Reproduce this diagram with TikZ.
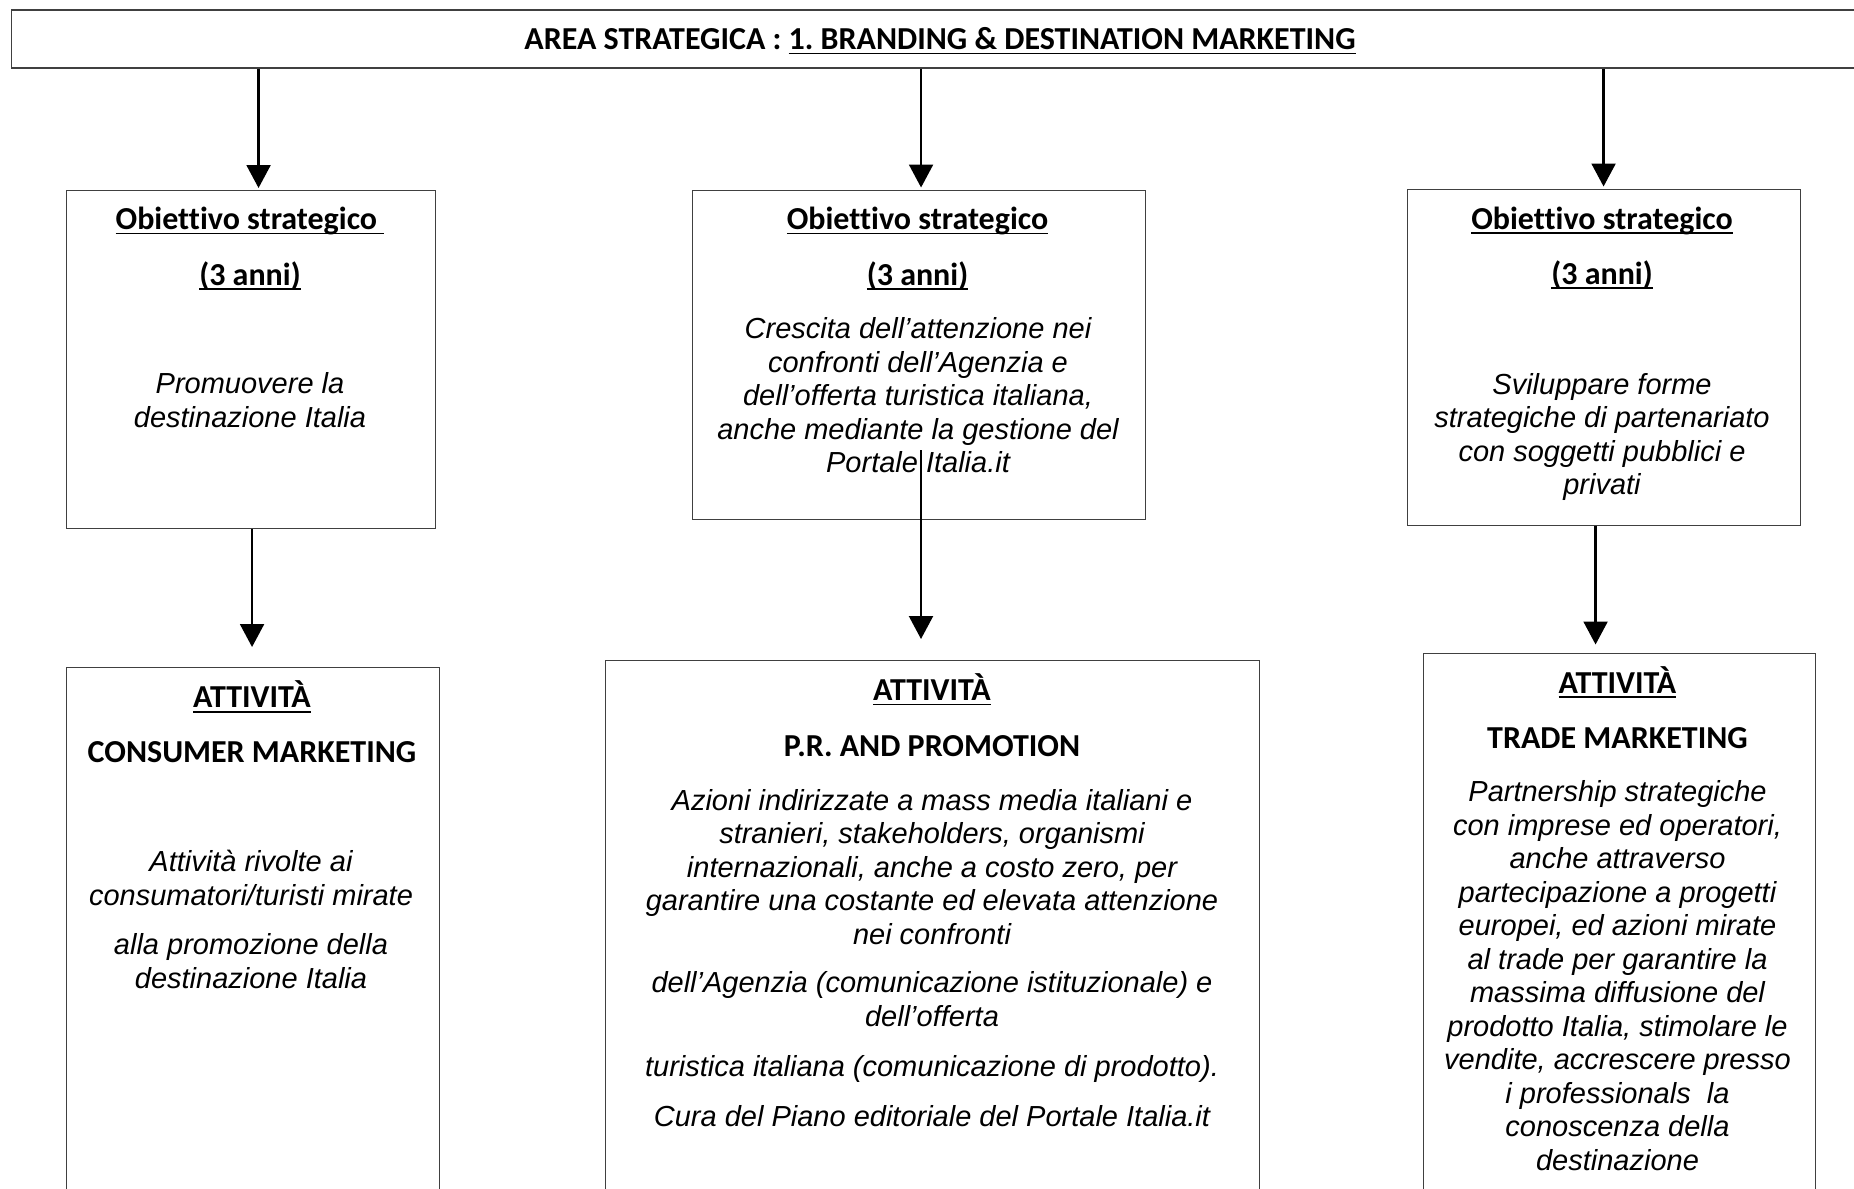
\documentclass[tikz,border=0pt]{standalone}
\usepackage{fontspec}
\newfontfamily\hdfont{Carlito}[Ligatures={NoCommon}]
\newfontfamily\bdfont{Liberation Sans}
\usetikzlibrary{arrows.meta}
\frenchspacing
\newcommand\undl[1]{\setbox0=\hbox{#1}\rlap{\rule[-4.9pt]{\wd0}{1.8pt}}\box0}
\tikzset{
  box/.style={draw=black!75, line width=1.1pt, inner sep=0pt, anchor=north west},
  hd/.style={font=\hdfont\bfseries\fontsize{32}{38}\selectfont, anchor=base, inner sep=0pt},
  bd/.style={font=\bdfont\itshape\fontsize{29}{33.5}\selectfont, align=center, anchor=north, inner sep=0pt, execute at begin node=\strut},
  arr/.style={line width=2.2pt, -{Triangle[width=24pt,length=23pt]}}
}
\begin{document}
\begin{tikzpicture}[x=1pt, y=-1pt]
  \useasboundingbox (0,0) rectangle (1854,1188);
  \clip (0,0) rectangle (1854,1188);
  % Define nodes
  \node[box, minimum width=1863pt, minimum height=58pt] (area) at (11,9.5) {};
  \node[hd] (areat) at (940,49.5) {AREA STRATEGICA : \undl{1. BRANDING \& DESTINATION MARKETING}};
  \node[box, minimum width=369pt, minimum height=338pt] (obj1) at (65.5,190) {};
  \node[box, minimum width=453pt, minimum height=329pt] (obj2) at (692,189.5) {};
  \node[box, minimum width=393pt, minimum height=336pt] (obj3) at (1406.5,188.5) {};
  \node[box, minimum width=373pt, minimum height=600pt] (att1) at (65.5,667) {};
  \node[box, minimum width=654pt, minimum height=600pt] (att2) at (605,660) {};
  \node[box, minimum width=392pt, minimum height=600pt] (att3) at (1422.5,652.5) {};
  % Texts of the objectives
  \node[hd] (obj1h) at (250,229.5) {\undl{Obiettivo strategico\ }};
  \node[hd] (obj1y) at (250,285) {\undl{(3 anni)}};
  \node[bd] (obj1t) at (250,372.5) {Promuovere la\\destinazione Italia};
  \node[hd] (obj2h) at (917.5,229.5) {\undl{Obiettivo strategico}};
  \node[hd] (obj2y) at (917.5,285) {\undl{(3 anni)}};
  \node[bd] (obj2t) at (918,317.4) {Crescita dell’attenzione nei\\confronti dell’Agenzia e\\dell’offerta turistica italiana,\\anche mediante la gestione del\\Portale Italia.it};
  \node[hd] (obj3h) at (1602,229) {\undl{Obiettivo strategico}};
  \node[hd] (obj3y) at (1602,284) {\undl{(3 anni)}};
  \node[bd] (obj3t) at (1602,372.8) {Sviluppare forme\\strategiche di partenariato\\con soggetti pubblici e\\privati};
  % Texts of the activities
  \node[hd] (att1h) at (252,707.6) {\undl{ATTIVITÀ}};
  \node[hd] (att1s) at (252,762) {CONSUMER MARKETING};
  \node[bd] (att1t) at (251,850.2) {Attività rivolte ai\\consumatori/turisti mirate\\[16pt]alla promozione della\\destinazione Italia};
  \node[hd] (att2h) at (932,700.5) {\undl{ATTIVITÀ}};
  \node[hd] (att2s) at (932,756) {P.R. AND PROMOTION};
  \node[bd] (att2t) at (932,789) {Azioni indirizzate a mass media italiani e\\stranieri, stakeholders, organismi\\internazionali, anche a costo zero, per\\garantire una costante ed elevata attenzione\\nei confronti\\[15pt]dell’Agenzia (comunicazione istituzionale) e\\dell’offerta\\[17pt]turistica italiana (comunicazione di prodotto).\\[16pt]Cura del Piano editoriale del Portale Italia.it};
  \node[hd] (att3h) at (1617.5,693) {\undl{ATTIVITÀ}};
  \node[hd] (att3s) at (1617.5,748) {TRADE MARKETING};
  \node[bd] (att3t) at (1617.5,780.5) {Partnership strategiche\\con imprese ed operatori,\\anche attraverso\\partecipazione a progetti\\europei, ed azioni mirate\\al trade per garantire la\\massima diffusione del\\prodotto Italia, stimolare le\\vendite, accrescere presso\\i professionals\ \ la\\conoscenza della\\destinazione};
  \coordinate (m) at (921,450);
  % Connect the nodes
  \draw[arr, shorten >=2pt] ([xshift=8pt]obj1.north |- area.south) -- ([xshift=8pt]obj1.north);
  \draw[arr, shorten >=2pt] ([xshift=2pt]obj2.north |- area.south) -- ([xshift=2pt]obj2.north);
  \draw[arr, shorten >=2pt] (obj3.north |- area.south) -- (obj3.north);
  \draw[arr, shorten >=20pt] ([xshift=1.5pt]obj1.south) -- ([xshift=1.5pt]obj1.south |- att1.north);
  \draw[arr, shorten >=21pt] (m) -- (m |- att2.north);
  \draw[arr, shorten >=8pt] ([xshift=-8pt]obj3.south) -- ([xshift=-8pt]obj3.south |- att3.north);
\end{tikzpicture}
\end{document}
